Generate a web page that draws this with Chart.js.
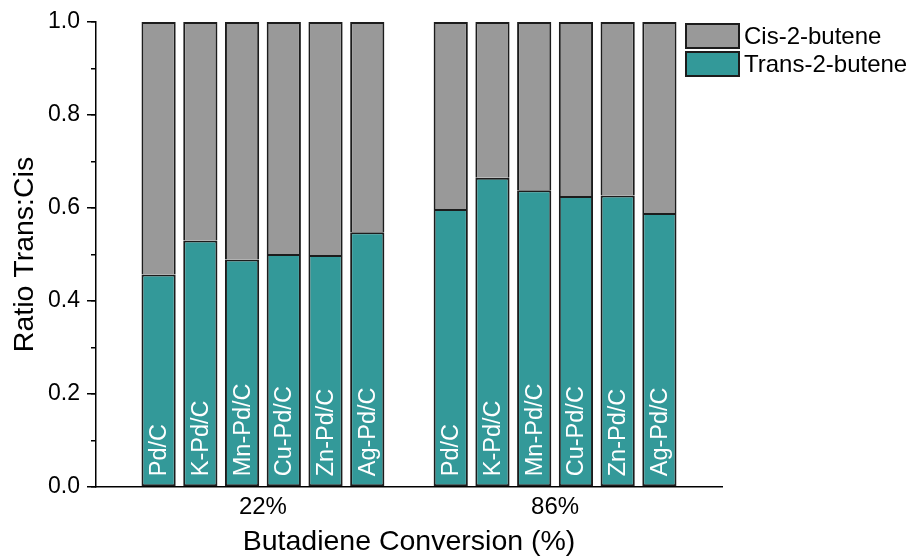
<!DOCTYPE html>
<html>
<head>
<meta charset="utf-8">
<script src="https://cdn.jsdelivr.net/npm/chart.js@4"></script>
<style>
  html, body { margin: 0; padding: 0; background: #fff; }
  #wrap { width: 914px; height: 559px; }
</style>
</head>
<body>
<div id="wrap"><canvas id="ratioChart" width="914" height="559"></canvas></div>
<script>
// ==============================
// DATA
// ==============================
const groups = ['22%', '86%'];
const catalysts = ['Pd/C', 'K-Pd/C', 'Mn-Pd/C', 'Cu-Pd/C', 'Zn-Pd/C', 'Ag-Pd/C'];
const trans22 = [0.457, 0.530, 0.489, 0.501, 0.499, 0.548];
const trans86 = [0.598, 0.665, 0.638, 0.626, 0.627, 0.589];
const cis22 = [0.543, 0.470, 0.511, 0.499, 0.501, 0.452];
const cis86 = [0.402, 0.335, 0.362, 0.374, 0.373, 0.411];
const yTicks = [0, 0.2, 0.4, 0.6, 0.8, 1.0];

const FONT = "'Liberation Sans', Arial, sans-serif";
const GRAY = '#999999';
const TEAL = '#339999';
const EDGE = '#1c1c1c';

// one empty slot before, between and after the two groups
const slotsPerGroup = catalysts.length + 1;
function slotX(g, k) { return 1 + g * slotsPerGroup + k + 0.5; }
function groupCenter(g) { return slotX(g, 0) + (catalysts.length - 1) / 2; }

function toPoints(seriesByGroup) {
    const pts = [];
    seriesByGroup.forEach((vals, g) => {
        vals.forEach((v, k) => pts.push({ x: slotX(g, k), y: v, name: catalysts[k] }));
    });
    return pts;
}

// ==============================
// PLUGINS
// ==============================
const barLabels = {
    id: 'barLabels',
    afterDatasetsDraw(chart) {
        const ctx = chart.ctx;
        const meta = chart.getDatasetMeta(0);
        ctx.save();
        ctx.fillStyle = '#ffffff';
        ctx.font = '23.5px ' + FONT;
        ctx.textAlign = 'left';
        ctx.textBaseline = 'middle';
        meta.data.forEach((bar, i) => {
            const raw = chart.data.datasets[0].data[i];
            ctx.save();
            ctx.translate(bar.x, bar.base - 10);
            ctx.rotate(-Math.PI / 2);
            ctx.fillText(raw.name, 0, 1);
            ctx.restore();
        });
        ctx.restore();
    }
};

const boxLegend = {
    id: 'boxLegend',
    afterDraw(chart) {
        const ctx = chart.ctx;
        const items = chart.data.datasets.slice().reverse();
        const x0 = 685, y0 = 23, w = 55, h = 26, gap = 2;
        ctx.save();
        ctx.font = '24px ' + FONT;
        ctx.textBaseline = 'middle';
        ctx.textAlign = 'left';
        items.forEach((ds, i) => {
            const y = y0 + i * (h + gap);
            ctx.fillStyle = ds.backgroundColor;
            ctx.fillRect(x0, y, w, h);
            ctx.strokeStyle = EDGE;
            ctx.lineWidth = 2;
            ctx.strokeRect(x0 + 1, y + 1, w - 2, h - 2);
            ctx.fillStyle = '#000';
            ctx.fillText(ds.label, x0 + w + 4, y + h / 2 + 1);
        });
        ctx.restore();
    }
};

// ==============================
// CHART
// ==============================
const ctx = document.getElementById('ratioChart').getContext('2d');
new Chart(ctx, {
    type: 'bar',
    data: {
        datasets: [
            {
                label: 'Trans-2-butene',
                data: toPoints([trans22, trans86]),
                backgroundColor: TEAL,
                borderColor: EDGE,
                borderWidth: 2,
                borderSkipped: false,
                categoryPercentage: 1,
                barPercentage: 0.82
            },
            {
                label: 'Cis-2-butene',
                data: toPoints([cis22, cis86]),
                backgroundColor: GRAY,
                borderColor: EDGE,
                borderWidth: 2,
                borderSkipped: 'bottom',
                categoryPercentage: 1,
                barPercentage: 0.82
            }
        ]
    },
    options: {
        responsive: false,
        animation: false,
        layout: { padding: { left: 8, top: 22, right: 192, bottom: 0 } },
        plugins: {
            legend: { display: false },
            tooltip: { enabled: false }
        },
        scales: {
            x: {
                type: 'linear',
                stacked: true,
                offset: false,
                min: 0,
                max: slotsPerGroup * groups.length + 1,
                grid: { display: false, drawTicks: false, offset: false },
                border: { color: '#000', width: 1.5 },
                afterBuildTicks: (scale) => {
                    scale.ticks = groups.map((g, i) => ({ value: groupCenter(i) }));
                },
                afterFit: (scale) => { scale.height = 72; },
                ticks: {
                    padding: 6,
                    color: '#000',
                    font: { family: FONT, size: 24 },
                    callback: (v, i) => groups[i]
                },
                title: {
                    display: true,
                    text: 'Butadiene Conversion (%)',
                    color: '#000',
                    font: { family: FONT, size: 28.5 },
                    padding: 0
                }
            },
            y: {
                stacked: true,
                min: 0,
                max: 1,
                weight: 1,
                afterBuildTicks: (scale) => {
                    scale.ticks = yTicks.map(v => ({ value: v }));
                },
                afterFit: (scale) => { scale.width = 88; },
                grid: { drawOnChartArea: false, tickLength: 9, color: '#000', lineWidth: 1.5 },
                border: { color: '#000', width: 1.5 },
                ticks: {
                    padding: 7,
                    color: '#000',
                    font: { family: FONT, size: 23 },
                    callback: (v) => Number(v).toFixed(1)
                },
                title: {
                    display: true,
                    text: 'Ratio Trans:Cis',
                    color: '#000',
                    font: { family: FONT, size: 28.5 },
                    padding: 0
                }
            },
            yMinor: {
                position: 'left',
                min: 0,
                max: 1,
                weight: 0,
                afterFit: (scale) => { scale.width = 0; },
                grid: { drawOnChartArea: false, tickLength: 5, color: '#000', lineWidth: 1.5 },
                border: { display: false },
                ticks: { display: false, stepSize: 0.1 }
            }
        }
    },
    plugins: [barLabels, boxLegend]
});
</script>
</body>
</html>
